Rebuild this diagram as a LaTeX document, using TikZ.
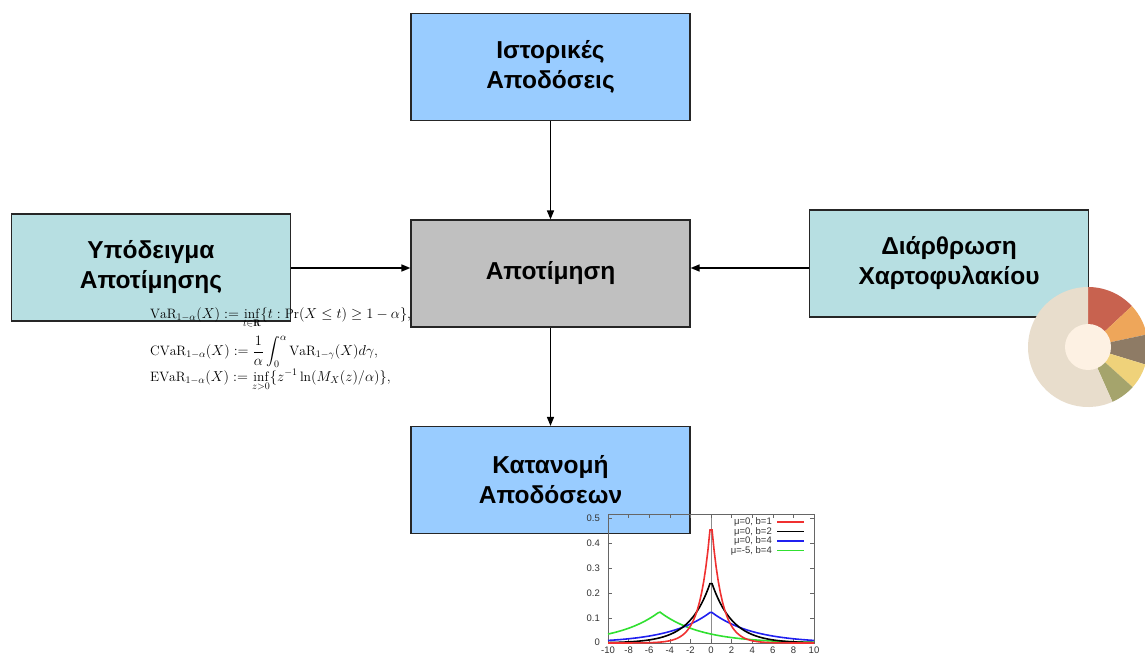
\documentclass[tikz,border=0pt]{standalone}
\usepackage{amsmath,amssymb}
\usepackage{fontspec}
\newfontfamily\grk{Liberation Sans}
\usetikzlibrary{arrows.meta}
\definecolor{blueb}{HTML}{99CCFF}
\definecolor{grayb}{HTML}{C0C0C0}
\definecolor{tealb}{HTML}{B7DFE2}
\definecolor{dred}{HTML}{C8624F}
\definecolor{dorange}{HTML}{EEA65A}
\definecolor{dbrown}{HTML}{8E7B65}
\definecolor{dyellow}{HTML}{EFD27A}
\definecolor{dolive}{HTML}{A5A46C}
\definecolor{dbeige}{HTML}{E8DDCC}
\definecolor{dcream}{HTML}{FDF1E3}
\definecolor{cred}{HTML}{F03030}
\definecolor{cgreen}{HTML}{30E030}
\definecolor{cblue}{HTML}{2020F0}
\tikzset{
  boxst/.style={draw=black!85, line width=1.2pt, minimum width=279pt, minimum height=107pt,
    align=center, font=\grk\bfseries\fontsize{24.5}{30}\selectfont, inner sep=0pt},
  arr/.style={line width=1.5pt, -{Triangle[length=9pt,width=7pt]}},
  frm/.style={font=\fontsize{13.6}{15}\selectfont, anchor=base west, inner sep=0pt},
  axl/.style={font=\grk\fontsize{9.5}{10}\selectfont, text=black!80, inner sep=1pt},
  crv/.style={line width=1.6pt, domain=-10:10, samples=100},
}
\begin{document}
\begin{tikzpicture}[x=1pt,y=-1pt]
\useasboundingbox (0,0) rectangle (1145,655);
\clip (0,0) rectangle (1145,655);
\fill[white] (0,0) rectangle (1145,655);
% boxes
\node[boxst, fill=blueb] (hist) at (550.5,67) {Ιστορικές\\Αποδόσεις};
\node[boxst, fill=grayb] (val) at (550.5,273.5) {Αποτίμηση};
\node[boxst, fill=tealb] (model) at (151,267.5) {Υπόδειγμα\\Αποτίμησης};
\node[boxst, fill=tealb] (port) at (949,263.5) {Διάρθρωση\\Χαρτοφυλακίου};
\node[boxst, fill=blueb] (dist) at (550.5,480) {Κατανομή\\Αποδόσεων};
% arrows
\draw[arr] (hist.south) -- (val.north);
\draw[arr] (model.east |- 0,268) coordinate (mE) -- (val.west |- mE);
\draw[arr] (port.west |- 0,268) coordinate (pW) -- (val.east |- pW);
\draw[arr] (val.south) -- (dist.north);
% formulas
\node[frm] (f1) at (150,318) {$\mathrm{VaR}_{1-\alpha}(X) := \inf\limits_{t\in\mathbf{R}}\{t:\Pr(X\le t)\ge 1-\alpha\},$};
\node[frm] (f2) at (150,355.5) {$\mathrm{CVaR}_{1-\alpha}(X) := \dfrac{1}{\alpha}\displaystyle\int_0^\alpha \mathrm{VaR}_{1-\gamma}(X)d\gamma,$};
\node[frm] (f3) at (150,381) {$\mathrm{EVaR}_{1-\alpha}(X) := \inf\limits_{z>0}\{z^{-1}\ln(M_X(z)/\alpha)\},$};
% donut
\begin{scope}[shift={(1088,347)}, yscale=-1]
  \fill[dred] (0,0) -- (90:60) arc[start angle=90, end angle=43, radius=60] -- cycle;
  \fill[dorange] (0,0) -- (43:60) arc[start angle=43, end angle=12, radius=60] -- cycle;
  \fill[dbrown] (0,0) -- (12:60) arc[start angle=12, end angle=-17, radius=60] -- cycle;
  \fill[dyellow] (0,0) -- (-17:60) arc[start angle=-17, end angle=-42, radius=60] -- cycle;
  \fill[dolive] (0,0) -- (-42:60) arc[start angle=-42, end angle=-66, radius=60] -- cycle;
  \fill[dbeige] (0,0) -- (-66:60) arc[start angle=-66, end angle=-270, radius=60] -- cycle;
  \fill[dcream] (0,0) circle[radius=23];
\end{scope}
% plot
\draw[black!45, line width=0.6pt] (711,514) -- (711,643);
\foreach \i in {0,...,5}{
  \draw[black!60, line width=0.6pt] (608,643-25*\i) -- (612,643-25*\i) (814,643-25*\i) -- (810,643-25*\i);
}
\node[axl, anchor=east] (y0) at (601,642) {0};
\node[axl, anchor=east] (y1) at (601,618) {0.1};
\node[axl, anchor=east] (y2) at (601,593) {0.2};
\node[axl, anchor=east] (y3) at (601,568) {0.3};
\node[axl, anchor=east] (y4) at (601,543) {0.4};
\node[axl, anchor=east] (y5) at (601,518) {0.5};
\foreach \k in {-10,-8,...,10}{
  \draw[black!60, line width=0.6pt] (711+10.3*\k,643) -- (711+10.3*\k,639) (711+10.3*\k,514) -- (711+10.3*\k,518);
  \node[axl, anchor=north] (x\k) at (711+10.3*\k,645.5) {\k};
}
\draw[black!60, line width=0.7pt] (608,514) rectangle (814,643);
\draw[crv, cgreen] plot ({711+10.3*\x},{643-250*exp(-abs(\x+5)/4)/8});
\draw[crv, cblue] plot ({711+10.3*\x},{643-250*exp(-abs(\x)/4)/8});
\draw[crv, black] plot ({711+10.3*\x},{643-250*exp(-abs(\x)/2)/4});
\draw[crv, cred] plot ({711+10.3*\x},{643-250*exp(-abs(\x))/2});
% legend
\node[axl, anchor=east] (l1) at (773,522) {μ=0, b=1};
\node[axl, anchor=east] (l2) at (773,531.5) {μ=0, b=2};
\node[axl, anchor=east] (l3) at (773,541) {μ=0, b=4};
\node[axl, anchor=east] (l4) at (773,550.5) {μ=-5, b=4};
\draw[line width=1.6pt, cred] (l1.east) ++(4,0) -- ++(27,0);
\draw[line width=1.6pt, black] (l2.east) ++(4,0) -- ++(27,0);
\draw[line width=1.6pt, cblue] (l3.east) ++(4,0) -- ++(27,0);
\draw[line width=1.6pt, cgreen] (l4.east) ++(4,0) -- ++(27,0);
\end{tikzpicture}
\end{document}
